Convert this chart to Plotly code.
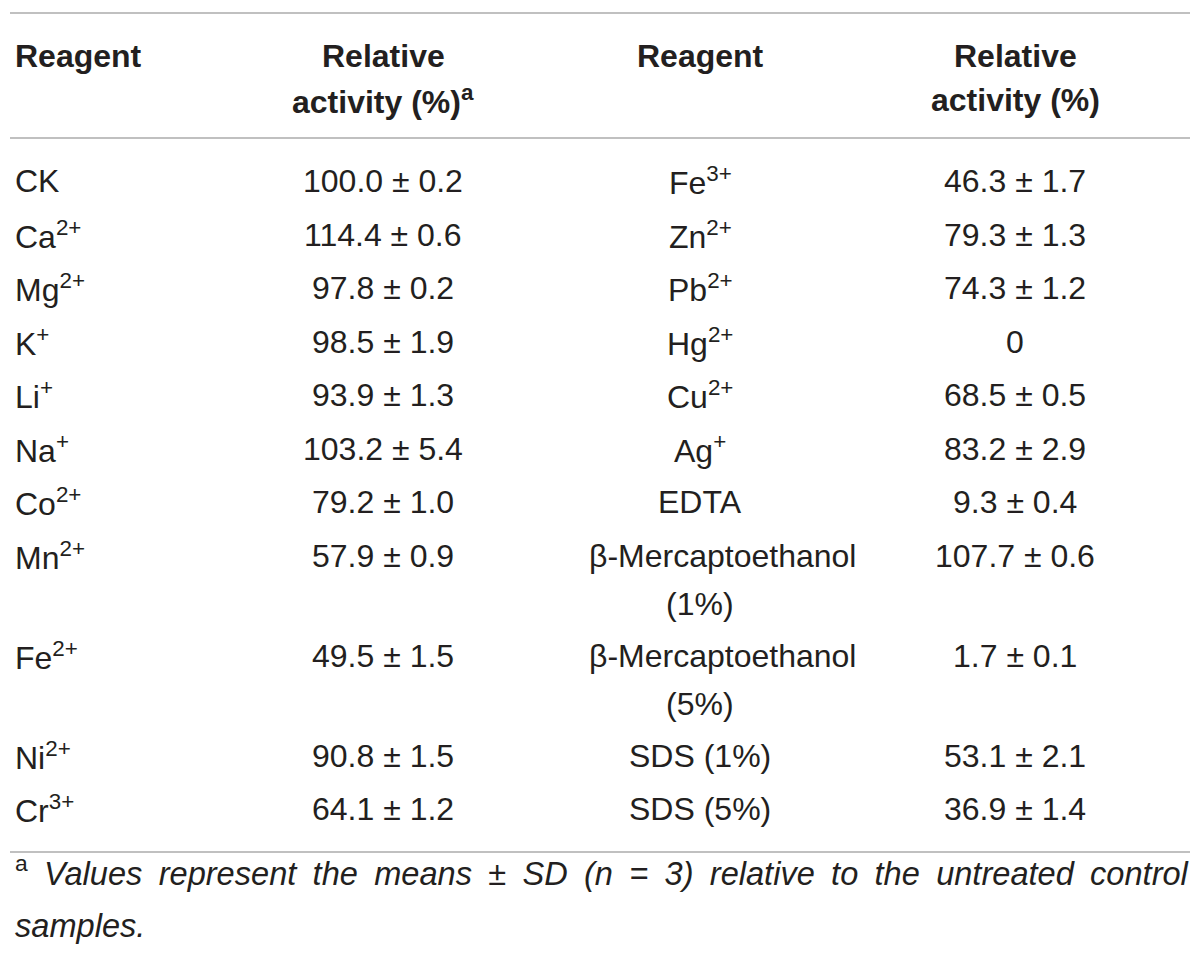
import plotly.graph_objects as go

# table data
left_reagents = ["CK", "Ca<sup>2+</sup>", "Mg<sup>2+</sup>", "K<sup>+</sup>",
                 "Li<sup>+</sup>", "Na<sup>+</sup>", "Co<sup>2+</sup>",
                 "Mn<sup>2+</sup>", "Fe<sup>2+</sup>", "Ni<sup>2+</sup>",
                 "Cr<sup>3+</sup>"]
left_mean = [100.0, 114.4, 97.8, 98.5, 93.9, 103.2, 79.2, 57.9, 49.5, 90.8, 64.1]
left_sd = [0.2, 0.6, 0.2, 1.9, 1.3, 5.4, 1.0, 0.9, 1.5, 1.5, 1.2]

right_reagents = ["Fe<sup>3+</sup>", "Zn<sup>2+</sup>", "Pb<sup>2+</sup>",
                  "Hg<sup>2+</sup>", "Cu<sup>2+</sup>", "Ag<sup>+</sup>", "EDTA",
                  "β-Mercaptoethanol<br>(1%)", "β-Mercaptoethanol<br>(5%)",
                  "SDS (1%)", "SDS (5%)"]
right_mean = [46.3, 79.3, 74.3, 0, 68.5, 83.2, 9.3, 107.7, 1.7, 53.1, 36.9]
right_sd = [1.7, 1.3, 1.2, None, 0.5, 2.9, 0.4, 0.6, 0.1, 2.1, 1.4]

headers = ["Reagent", "Relative<br>activity (%)<sup>a</sup>",
           "Reagent", "Relative<br>activity (%)"]
footnote_words = ["Values", "represent", "the", "means", "±", "SD", "(n", "=",
                  "3)", "relative", "to", "the", "untreated", "control"]
footnote_tail = "samples."

TXT = "#231f20"
LINE = "#c0c0c0"
FONT = "Liberation Sans, Arial, sans-serif"
FS = 32

col_x = [13, 383, 700, 1015]
col_left = [13, 250, 587, 860]
OFF = 8  # page body margin


def fmt(m, s):
    if s is None:
        return "%g" % m
    return "%.1f ± %.1f" % (m, s)


fig = go.Figure()
ann = []


def add_text(x, y, text, anchor="center", bold=False, size=FS):
    ann.append(dict(x=x, y=y, xref="x", yref="y", text=text, showarrow=False,
                    xanchor=anchor, yanchor="middle",
                    font=dict(family=FONT, size=size, color=TXT,
                              weight="bold" if bold else "normal")))


# header
for i, h in enumerate(headers):
    parts = h.split("<br>")
    for j, p in enumerate(parts):
        add_text(col_x[i], 56 + 44 * j, p,
                 anchor="left" if i == 0 else "center", bold=True)

# body rows
y = 181
for k in range(len(left_reagents)):
    add_text(col_x[0], y, left_reagents[k], anchor="left")
    add_text(col_x[1], y, fmt(left_mean[k], left_sd[k]))
    parts = right_reagents[k].split("<br>")
    for j, p in enumerate(parts):
        if len(parts) > 1 and j == 0:
            add_text(col_left[2], y, p, anchor="left")
        else:
            add_text(col_x[2], y + 48 * j, p)
    add_text(col_x[3], y, fmt(right_mean[k], right_sd[k]))
    y += 53.5 + 46.5 * (len(parts) - 1)

# footnote, first line spread out like the justified original
line1 = "<sup>a</sup>\u2002<i>" + "\u2002".join(footnote_words) + "</i>"
add_text(13, 871, line1, anchor="left", size=32.6)
add_text(13, 925, "<i>" + footnote_tail + "</i>", anchor="left", size=32.6)

shapes = []
for ly in [13, 138, 852]:
    shapes.append(dict(type="line", xref="x", yref="y", x0=10, x1=1190,
                       y0=ly, y1=ly, line=dict(color=LINE, width=2)))

fig.update_layout(
    width=1200, height=958,
    margin=dict(l=0, r=0, t=0, b=0),
    paper_bgcolor="white", plot_bgcolor="white",
    xaxis=dict(range=[OFF, 1200 + OFF], visible=False, fixedrange=True),
    yaxis=dict(range=[958 + OFF, OFF], visible=False, fixedrange=True),
    annotations=ann, shapes=shapes, showlegend=False,
)

fig.write_html("out.html")
